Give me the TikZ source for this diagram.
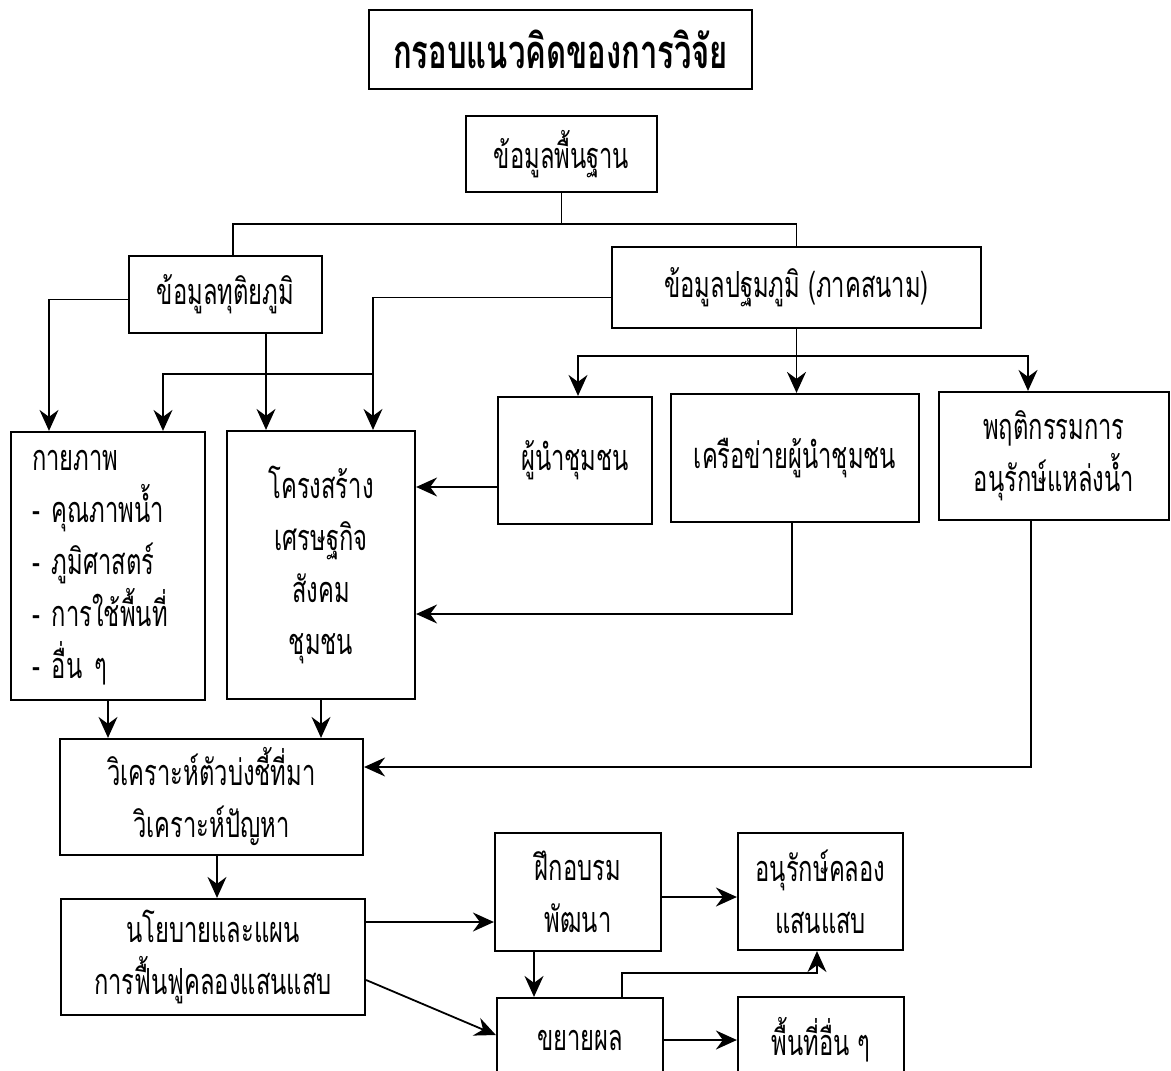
\documentclass[tikz,border=0pt]{standalone}
\usepackage{fontspec}
\newfontfamily\thaifont[Script=Thai,FakeStretch=0.66]{Loma}
\usetikzlibrary{arrows.meta}

\begin{document}
\begin{tikzpicture}[
       x=1pt, y=-1pt,
       line width=1.8pt,
       >={Stealth[length=21pt,width=19pt,inset=7pt]},
       blok/.style={
         draw,
         rectangle,
         line width=2.2pt,
         inner sep=0pt,
         align=center,
         font=\thaifont\fontsize{36}{52}\selectfont
       }
     ]

       \clip (0,0) rectangle (1171,1071);

       \node (b1) at (560.5,49.5) [blok, minimum width=383pt, minimum height=79pt,
         font=\thaifont\bfseries\fontsize{47}{50}\selectfont]{กรอบแนวคิดของการวิจัย};

       \node (b2) at (561.5,154) [blok, minimum width=191pt, minimum height=76pt]{ข้อมูลพื้นฐาน};
       \node (b3) at (225.5,294.5) [blok, minimum width=193pt, minimum height=77pt]{ข้อมูลทุติยภูมิ};
       \node (b4) at (796.5,287.5) [blok, minimum width=369pt, minimum height=81pt]{ข้อมูลปฐมภูมิ (ภาคสนาม)};

       \node (b5) at (108,566) [blok, minimum width=194pt, minimum height=268pt, text width=152pt, align=left]{\mbox{}\\[-28pt]กายภาพ\\- คุณภาพน้ำ\\- ภูมิศาสตร์\\- การใช้พื้นที่\\- อื่น ๆ};
       \node (b6) at (321,565) [blok, minimum width=188pt, minimum height=268pt]{โครงสร้าง\\เศรษฐกิจ\\สังคม\\ชุมชน};
       \node (b7) at (575,460.5) [blok, minimum width=154pt, minimum height=127pt]{ผู้นำชุมชน};
       \node (b8) at (795,458) [blok, minimum width=248pt, minimum height=128pt]{เครือข่ายผู้นำชุมชน};
       \node (b9) at (1054,456) [blok, minimum width=230pt, minimum height=128pt]{พฤติกรรมการ\\อนุรักษ์แหล่งน้ำ};

       \node (b10) at (211.5,797) [blok, minimum width=303pt, minimum height=116pt]{วิเคราะห์ตัวบ่งชี้ที่มา\\วิเคราะห์ปัญหา};
       \node (b11) at (213,957) [blok, minimum width=304pt, minimum height=116pt]{นโยบายและแผน\\การฟื้นฟูคลองแสนแสบ};
       \node (b12) at (578,892) [blok, minimum width=166pt, minimum height=118pt]{ฝึกอบรม\\พัฒนา};
       \node (b13) at (820.5,891.5) [blok, minimum width=165pt, minimum height=117pt]{อนุรักษ์คลอง\\แสนแสบ};
       \node (b14) at (580,1040) [blok, minimum width=166pt, minimum height=84pt]{ขยายผล};
       \node (b15) at (821,1040) [blok, minimum width=166pt, minimum height=86pt]{พื้นที่อื่น ๆ};

       \coordinate (j1) at (561.5,224);
       \coordinate (j2) at (373,374);
       \coordinate (j3) at (796.5,356);

       \draw (b2.south) -- (j1);
       \draw ([xshift=7.5pt]b3.north) |- (j1) -| (b4.north);

       \draw[->] ([yshift=-5pt]b3.west) -| ([xshift=-59pt]b5.north);
       \draw[->] ([xshift=40.5pt]b3.south) -- ([xshift=40.5pt]b3.south |- b6.north);
       \draw[->] ([yshift=-10pt]b4.west) -| ([xshift=52pt]b6.north);
       \draw[->] (j2) -| ([xshift=55pt]b5.north);

       \draw[->] (b4.south) -- (b4.south |- b8.north);
       \draw[->] (j3) -| ([xshift=3pt]b7.north);
       \draw[->] (j3) -| ([xshift=-26pt]b9.north);

       \draw[->] ([yshift=-26.5pt]b7.west) -- ([yshift=-26.5pt]b7.west -| b6.east);
       \draw[->] ([xshift=-3pt]b8.south) |- ([yshift=-49pt]b6.east);
       \draw[->] ([xshift=-23pt]b9.south) |- ([yshift=30pt]b10.east);

       \draw[->] (b5.south) -- (b5.south |- b10.north);
       \draw[->] (b6.south) -- (b6.south |- b10.north);
       \draw[->] ([xshift=5.5pt]b10.south) -- ([xshift=5.5pt]b10.south |- b11.north);

       \draw[->] ([yshift=35pt]b11.east) -- ([yshift=35pt]b11.east -| b12.west);
       \draw[->] ([yshift=-23pt]b11.east) -- ([yshift=5pt]b14.west);
       \draw[->] ([yshift=-5pt]b12.east) -- ([yshift=-5pt]b12.east -| b13.west);
       \draw[->] ([xshift=-44pt]b12.south) -- ([xshift=-44pt]b12.south |- b14.north);
       \draw[->] ([xshift=42pt]b14.north) -- ++(0,-24) -| ([xshift=-3.5pt]b13.south);
       \draw[->] (b14.east) -- (b15.west);

\end{tikzpicture}
\end{document}
